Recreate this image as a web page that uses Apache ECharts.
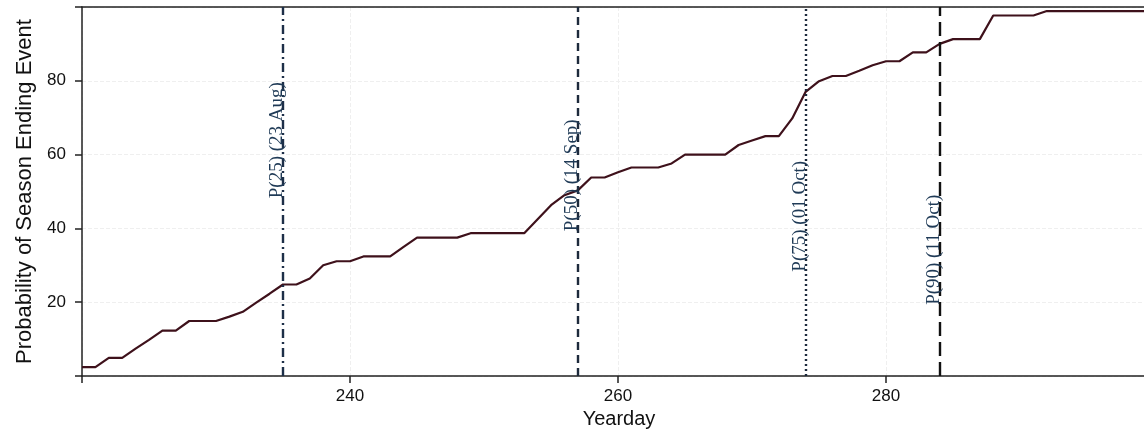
<!DOCTYPE html>
<html>
<head>
<meta charset="utf-8">
<script src="https://cdn.jsdelivr.net/npm/echarts@6/dist/echarts.min.js"></script>
<style>
  html, body { margin: 0; padding: 0; background: #ffffff; }
  #chart { width: 1144px; height: 434px; }
</style>
</head>
<body>
<div id="chart"></div>
<script>
// ---- data ----
const firstYearday = 220;
const probability = [
  2.4, 2.4, 4.9, 4.9, 7.4, 9.8, 12.3, 12.3, 14.9, 14.9,        // 220-229
  14.9, 16.1, 17.4, 19.9, 22.3, 24.8, 24.8, 26.4, 30.0, 31.1,  // 230-239
  31.1, 32.4, 32.4, 32.4, 35.0, 37.5, 37.5, 37.5, 37.5, 38.7,  // 240-249
  38.7, 38.7, 38.7, 38.7, 42.5, 46.3, 49.0, 50.3, 53.8, 53.8,  // 250-259
  55.2, 56.5, 56.5, 56.5, 57.6, 60.0, 60.0, 60.0, 60.0, 62.6,  // 260-269
  63.8, 65.0, 65.0, 69.8, 77.0, 79.9, 81.3, 81.3, 82.7, 84.2,  // 270-279
  85.3, 85.3, 87.7, 87.7, 90.0, 91.3, 91.3, 91.3, 97.7, 97.7,  // 280-289
  97.7, 97.7, 98.9, 98.9, 98.9, 98.9, 98.9, 98.9, 98.9, 98.9,  // 290-299
  98.9                                                          // 300
];
const percentileDays = [235, 257, 274, 284];
const percentileLabels = ['P(25) (23 Aug)', 'P(50) (14 Sep)', 'P(75) (01 Oct)', 'P(90) (11 Oct)'];
const xRange = [220, 299.25];
const yRange = [0, 100];

// ---- styles ----
const dashStyles = [[9, 4, 2, 4], [8, 5], [2, 3], [14, 6]];
const dashColors = ['#1d2f48', '#1d2a3c', '#1d2a3c', '#111111'];
const labelCenterY = [63.9, 54.4, 43.3, 34.2]; // label centre heights (value units)

const seriesData = probability.map((v, i) => [firstYearday + i, v]);

const chart = echarts.init(document.getElementById('chart'), null, { renderer: 'canvas' });

const axisFont = 'Liberation Sans, Arial, Helvetica, sans-serif';

const option = {
  backgroundColor: '#ffffff',
  animation: false,
  grid: { left: 82, top: 7, right: 0, bottom: 58, outerBoundsMode: 'none' },
  xAxis: [{
    type: 'value',
    min: xRange[0], max: xRange[1], interval: 20,
    name: 'Yearday',
    nameLocation: 'middle',
    nameGap: 33,
    nameTextStyle: { fontSize: 20, color: '#111', fontFamily: axisFont, padding: [0, 0, 0, 12] },
    axisLine: { show: true, onZero: false, lineStyle: { color: '#222', width: 1.5 } },
    axisTick: { show: true, length: 7, lineStyle: { color: '#222', width: 1.5 } },
    axisLabel: {
      fontSize: 17, color: '#111', fontFamily: axisFont, margin: 12,
      showMaxLabel: false,
      formatter: v => (v === 220 || v > 290) ? '' : String(v)
    },
    splitLine: { show: true, lineStyle: { color: '#efefef', type: 'dashed', width: 1 } }
  }, {
    type: 'value', position: 'top',
    min: xRange[0], max: xRange[1],
    axisLine: { show: true, onZero: false, lineStyle: { color: '#222', width: 1.5 } },
    axisTick: { show: false }, axisLabel: { show: false }, splitLine: { show: false }
  }],
  yAxis: {
    type: 'value',
    min: yRange[0], max: yRange[1], interval: 20,
    name: 'Probability of Season Ending Event',
    nameLocation: 'middle',
    nameGap: 45,
    nameTextStyle: { fontSize: 22, color: '#111', fontFamily: axisFont },
    axisLine: { show: true, onZero: false, lineStyle: { color: '#222', width: 1.5 } },
    axisTick: { show: true, length: 7, lineStyle: { color: '#222', width: 1.5 } },
    axisLabel: {
      fontSize: 17, color: '#111', fontFamily: axisFont, margin: 16,
      formatter: v => (v === 0 || v === 100) ? '' : String(v)
    },
    splitLine: { show: true, lineStyle: { color: '#efefef', type: 'dashed', width: 1 } }
  },
  series: [{
    type: 'line',
    data: seriesData,
    showSymbol: false,
    symbol: 'none',
    clip: true,
    lineStyle: { color: '#3e111b', width: 2.2 },
    markLine: {
      silent: true,
      symbol: ['none', 'none'],
      label: { show: false },
      data: percentileDays.map((d, i) => ({
        xAxis: d,
        lineStyle: { type: dashStyles[i], color: dashColors[i], width: 2.4 }
      }))
    }
  }]
};

chart.setOption(option);

// percentile labels, anchored to the axis scale
const graphics = percentileDays.map((d, i) => {
  const p = chart.convertToPixel({ gridIndex: 0 }, [d, labelCenterY[i]]);
  return {
    type: 'text',
    x: p[0] + 4,
    y: p[1],
    rotation: Math.PI / 2,
    z: 10,
    style: {
      text: percentileLabels[i],
      fill: '#1f3a56',
      font: '19px "Liberation Serif", "Times New Roman", serif',
      align: 'center',
      verticalAlign: 'bottom'
    }
  };
});
chart.setOption({ graphic: graphics });
</script>
</body>
</html>
